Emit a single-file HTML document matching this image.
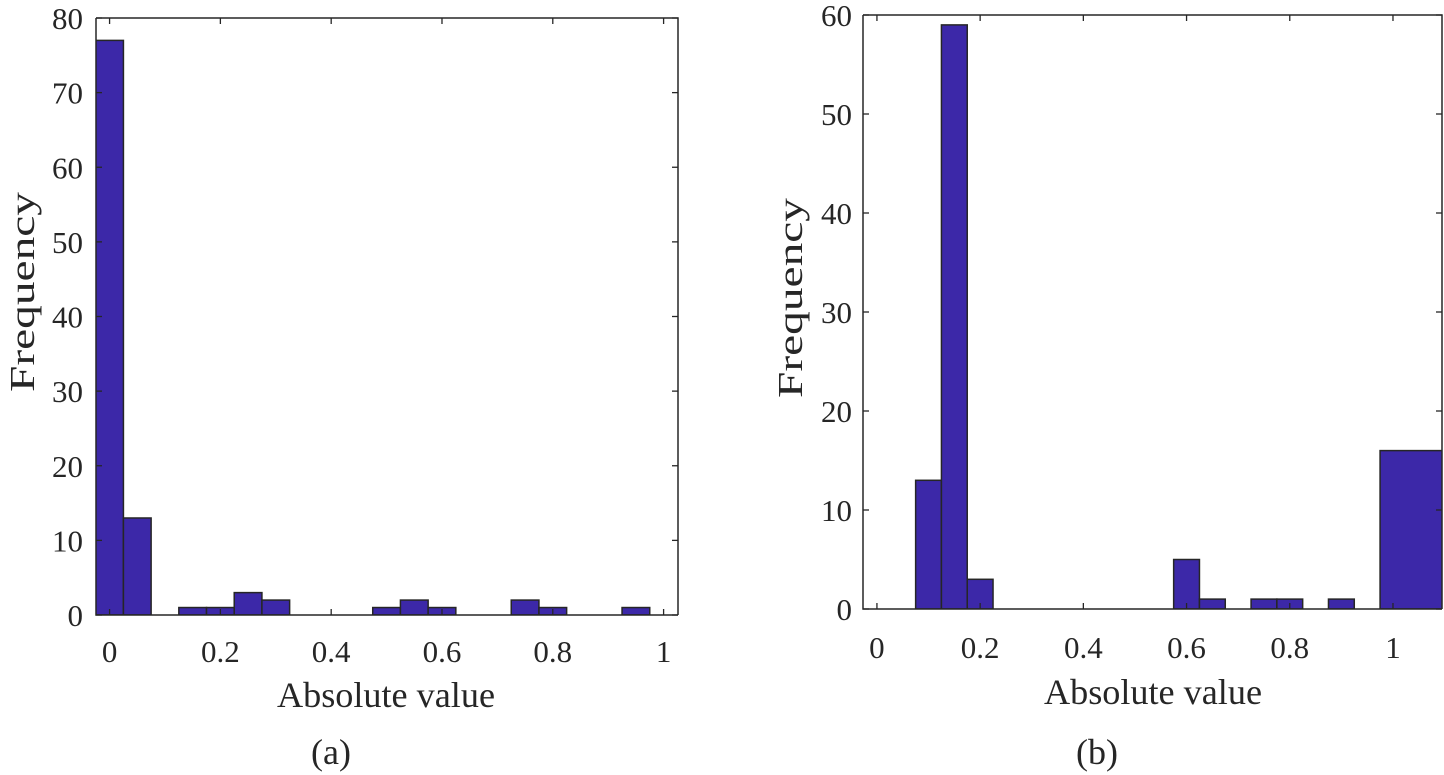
<!DOCTYPE html>
<html><head><meta charset="utf-8"><style>
html,body{margin:0;padding:0;background:#fff;}
svg{display:block;}
text{font-family:"Liberation Serif",serif;fill:#262626;}
</style></head><body>
<svg id="fig" width="1444" height="775" viewBox="0 0 1444 775">
<defs>
<clipPath id="clipA"><rect x="96" y="18" width="582" height="597"/></clipPath>
<clipPath id="clipB"><rect x="863" y="15" width="579" height="594"/></clipPath>
</defs>
<g id="panelA"></g>
<g id="panelB"></g>
</svg>
<script>
// Panel (a) data
const aBinCenters = [0,0.05,0.1,0.15,0.2,0.25,0.3,0.35,0.4,0.45,0.5,0.55,0.6,0.65,0.7,0.75,0.8,0.85,0.9,0.95];
const aCounts     = [77,13,0,1,1,3,2,0,0,0,1,2,1,0,0,2,1,0,0,1];
const aXTicks = [0,0.2,0.4,0.6,0.8,1];
const aXTickLabels = ["0","0.2","0.4","0.6","0.8","1"];
const aYTicks = [0,10,20,30,40,50,60,70,80];
// Panel (b) data
const bBinLeft  = [0.075,0.125,0.175,0.575,0.625,0.725,0.775,0.875,0.975];
const bBinRight = [0.125,0.175,0.225,0.625,0.675,0.775,0.825,0.925,1.2];
const bCounts   = [13,59,3,5,1,1,1,1,16];
const bXTicks = [0,0.2,0.4,0.6,0.8,1];
const bXTickLabels = ["0","0.2","0.4","0.6","0.8","1"];
const bYTicks = [0,10,20,30,40,50,60];

const NS="http://www.w3.org/2000/svg";
function mk(tag, attrs, parent){const e=document.createElementNS(NS,tag);for(const k in attrs)e.setAttribute(k,attrs[k]);parent.appendChild(e);return e;}

function drawPanel(g, cfg){
  const {L,R,T,B,x0,x1,ymax,clip} = cfg;
  const sx = v => L + (v - x0)/(x1 - x0)*(R - L);
  const sy = v => B - v/ymax*(B - T);
  const bars = mk('g',{'clip-path':'url(#'+clip+')'},g);
  
  
  cfg.lefts.forEach((l,i)=>{
    const r = cfg.rights[i], c = cfg.counts[i];
    if(c<=0) return;
    const rect = mk('rect',{x:sx(l),y:sy(c),width:sx(r)-sx(l),height:sy(0)-sy(c),fill:'#3c28a8',stroke:'#262626','stroke-width':1.5},bars);
    
    
  });
  const fr = mk('path',{d:`M${L},${T}H${R}V${B}M${L},${T}V${B}H${R}`,fill:'none',stroke:'#262626','stroke-width':1.5},g);
  
  
  cfg.xticks.forEach((t,i)=>{
    const x=sx(t);
    mk('line',{x1:x,y1:B,x2:x,y2:B-6,stroke:'#262626','stroke-width':1.3},g);
    mk('line',{x1:x,y1:T,x2:x,y2:T+6,stroke:'#262626','stroke-width':1.3},g);
    const tx=mk('text',{x:x,y:cfg.xlabY,'font-size':31,'text-anchor':'middle'},g);
    tx.textContent=cfg.xlabels[i];
    
    
  });
  cfg.yticks.forEach(t=>{
    const y=sy(t);
    mk('line',{x1:L,y1:y,x2:L+6,y2:y,stroke:'#262626','stroke-width':1.3},g);
    mk('line',{x1:R,y1:y,x2:R-6,y2:y,stroke:'#262626','stroke-width':1.3},g);
    const ty=mk('text',{x:cfg.ylabX,y:y+11,'font-size':31,'text-anchor':'end'},g);
    ty.textContent=String(t);
    
    
  });
  const xt=mk('text',{x:cfg.xtX,y:cfg.xtY,'font-size':36,'text-anchor':'middle',textLength:218,lengthAdjust:'spacingAndGlyphs'},g);
  xt.textContent='Absolute value';
  
  
  const yt=mk('text',{x:0,y:0,'font-size':35,'text-anchor':'middle',transform:`translate(${cfg.ytX},${cfg.ytY}) rotate(-90)`,textLength:200,lengthAdjust:'spacingAndGlyphs'},g);
  yt.textContent='Frequency';
  
  
  const cap=mk('text',{x:cfg.capX,y:cfg.capY,'font-size':36,'text-anchor':'middle'},g);
  cap.textContent=cfg.caption;
  
  
}

drawPanel(document.getElementById('panelA'),{
  L:96,R:678,T:18,B:615,x0:-0.0245,x1:1.026,ymax:80,clip:'clipA',
  lefts:aBinCenters.map(c=>c-0.025),rights:aBinCenters.map(c=>c+0.025),counts:aCounts,
  xticks:aXTicks,xlabels:aXTickLabels,yticks:aYTicks,
  xlabY:662,ylabX:83,xtX:386,xtY:707,ytX:34,ytY:292,capX:331,capY:764,caption:'(a)'
});
drawPanel(document.getElementById('panelB'),{
  L:863,R:1442,T:15,B:609,x0:-0.027,x1:1.095,ymax:60,clip:'clipB',
  lefts:bBinLeft,rights:bBinRight,counts:bCounts,
  xticks:bXTicks,xlabels:bXTickLabels,yticks:bYTicks,
  xlabY:658,ylabX:852,xtX:1153,xtY:704,ytX:802,ytY:298,capX:1097,capY:764,caption:'(b)'
});
</script>
</body></html>
